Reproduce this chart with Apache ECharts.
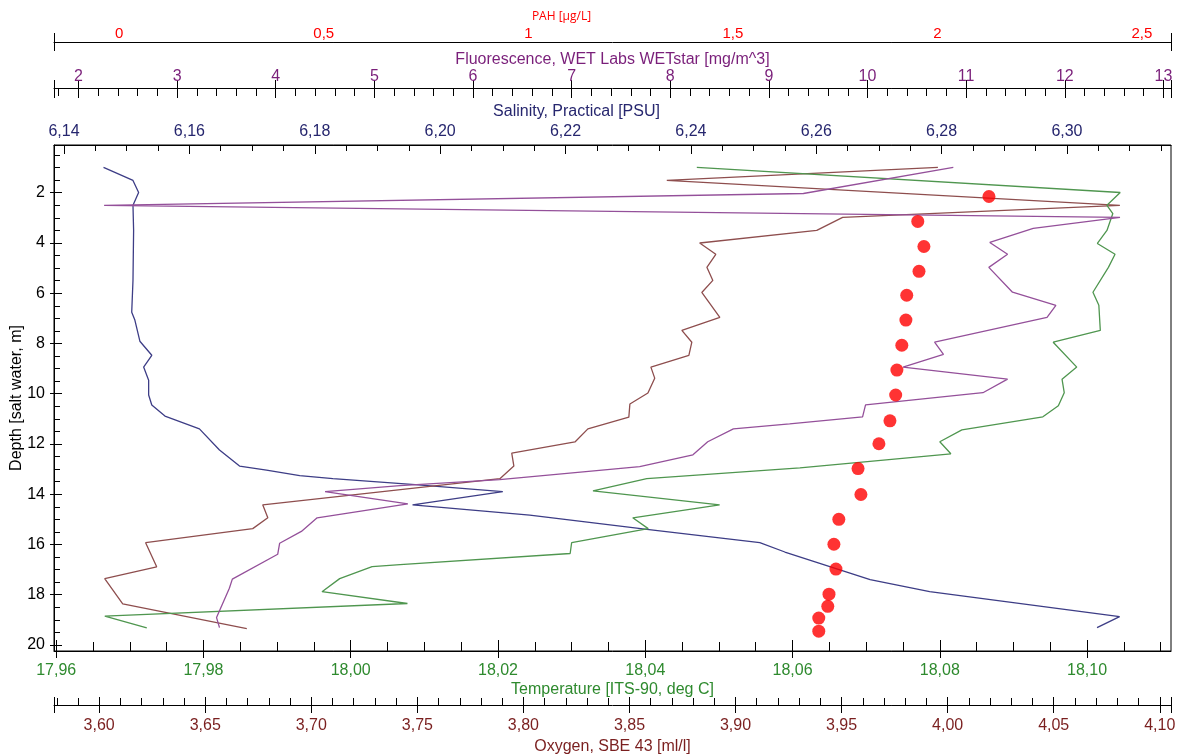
<!DOCTYPE html>
<html><head><meta charset="utf-8">
<script src="https://cdn.jsdelivr.net/npm/echarts@6/dist/echarts.min.js"></script>
<style>html,body{margin:0;padding:0;background:#fff}#c{width:1179px;height:756px}</style>
</head><body><div id="c"></div>
<script>
// ---------------- data ----------------
const salinityDepth = [0.99,1.51,1.99,2.50,3.50,5.49,6.76,7.07,7.91,8.47,8.94,9.46,10.05,10.45,10.89,11.40,12.24,12.88,13.04,13.26,13.38,13.62,13.90,14.42,14.83,15.40,15.93,16.30,17.40,17.88,18.87,19.31];
const salinityValues = [6.1463,6.1510,6.1519,6.1510,6.1511,6.1510,6.1508,6.1513,6.1521,6.1540,6.1527,6.1535,6.1535,6.1540,6.1561,6.1616,6.1648,6.1680,6.1723,6.1776,6.1829,6.1960,6.2100,6.1956,6.2143,6.2330,6.2510,6.2550,6.2686,6.2781,6.3084,6.3048];

const fluorDepth = [0.99,2.03,2.50,2.98,3.42,3.98,4.45,4.97,5.96,6.48,6.96,7.95,8.43,8.94,9.42,9.96,10.44,10.92,11.20,11.40,11.91,12.43,12.90,13.42,13.66,13.90,14.38,14.94,15.48,15.95,16.39,17.38,17.74,18.91,19.31];
const fluorValues = [10.87,9.35,2.26,12.56,11.68,11.24,11.42,11.23,11.47,11.91,11.82,10.68,10.77,10.36,11.42,11.17,9.98,9.95,9.21,8.64,8.38,8.23,7.69,6.27,5.26,4.50,5.34,4.42,4.26,4.04,4.02,3.56,3.53,3.40,3.43];

const tempDepth = [0.99,1.99,2.50,2.83,3.50,4.02,4.45,4.97,5.96,6.48,7.48,7.95,8.94,9.42,9.96,10.48,10.92,11.44,11.91,12.39,12.95,13.38,13.87,14.42,14.94,15.37,15.93,16.36,16.80,16.88,17.36,17.88,18.35,18.85,19.32];
const tempValues = [18.0470,18.1045,18.1027,18.1035,18.1027,18.1014,18.1038,18.1029,18.1008,18.1016,18.1018,18.0954,18.0986,18.0966,18.0969,18.0961,18.0940,18.0830,18.0800,18.0815,18.0610,18.0402,18.0329,18.0501,18.0383,18.0404,18.0300,18.0298,18.0067,18.0029,17.9985,17.9961,18.0077,17.9666,17.9723];

const oxyDepth = [0.99,1.51,2.50,2.98,3.50,4.00,4.45,4.97,5.49,5.97,6.96,7.48,7.95,8.47,8.94,9.38,9.97,10.41,10.93,11.40,11.92,12.36,12.88,13.38,14.42,14.94,15.37,15.93,16.89,17.36,18.36,19.35];
const oxyValues = [3.9954,3.8676,4.0812,3.9505,3.9383,3.8831,3.8907,3.8865,3.8893,3.8841,3.8926,3.8747,3.8794,3.8780,3.8601,3.8619,3.8587,3.8502,3.8497,3.8304,3.8243,3.7945,3.7955,3.7889,3.6771,3.6795,3.6724,3.6219,3.6271,3.6026,3.6111,3.6696];

const pahDepth = [2.15,3.14,4.14,5.13,6.08,7.07,8.07,9.06,10.05,11.08,11.99,12.98,14.01,15.00,15.99,16.98,17.98,18.46,18.93,19.45];
const pahValues = [2.126,1.952,1.967,1.955,1.925,1.923,1.913,1.901,1.898,1.884,1.857,1.806,1.813,1.759,1.747,1.752,1.735,1.732,1.710,1.710];

// tick labels
const depthTicks = [2,4,6,8,10,12,14,16,18,20];
const salinityTicks = [6.14,6.16,6.18,6.20,6.22,6.24,6.26,6.28,6.30];
const fluorTicks = [2,3,4,5,6,7,8,9,10,11,12,13];
const pahTicks = [0,0.5,1,1.5,2,2.5];
const tempTicks = [17.96,17.98,18.00,18.02,18.04,18.06,18.08,18.10];
const oxyTicks = [3.60,3.65,3.70,3.75,3.80,3.85,3.90,3.95,4.00,4.05,4.10];

// ---------------- chart ----------------
const FONT = '"Liberation Sans", Arial, sans-serif';
function steps(a, b, s){ const o=[]; const n=Math.round((b-a)/s); for(let i=0;i<=n;i++) o.push(+(a+i*s).toFixed(6)); return o; }
const fmt2 = v => v.toFixed(2).replace('.', ',');
const fmtP = v => String(v).replace('.', ',');
const zip = (xs, ys) => xs.map((x,i) => [x, ys[i]]);

const xAxes = [];
function addScale(c){
  const base = {type:'value', gridIndex:0, position:c.position, offset:c.offset, min:c.min, max:c.max, splitLine:{show:false}, splitArea:{show:false}};
  const idx = xAxes.length;
  xAxes.push(Object.assign({}, base, {
    axisLine:{show:true, onZero:false, lineStyle:{color:'#000', width:1}},
    axisTick:{show:c.majIn>0, inside:true, length:c.majIn, customValues:c.tickVals || c.majors, lineStyle:{color:'#000'}},
    axisLabel:{show:true, customValues:c.majors, formatter:c.fmt, color:c.color, fontSize:c.fontSize, fontFamily:c.fontFamily||FONT, margin:c.margin},
    name:c.name, nameLocation:'middle', nameGap:c.nameGap, nameMoveOverlap:false,
    nameTextStyle:{color:c.color, fontSize:c.nameSize, fontFamily:c.nameFamily||FONT, padding:c.namePad||0}
  }));
  if (c.minors) xAxes.push(Object.assign({}, base, {
    axisLine:{show:false, onZero:false}, axisLabel:{show:false},
    axisTick:{show:true, inside:true, length:c.minIn, customValues:c.minors, lineStyle:{color:'#000'}}
  }));
  if (c.outVals) xAxes.push(Object.assign({}, base, {
    axisLine:{show:false, onZero:false}, axisLabel:{show:false},
    axisTick:{show:true, inside:false, length:c.majOut, customValues:c.outVals, lineStyle:{color:'#000'}}
  }));
  return idx;
}

const salMin = 6.1384, salMax = 6.3166;
const fluMin = 1.752, fluMax = 13.077;
const pahMin = -0.1594, pahMax = 2.571;
const tmpMin = 17.9597, tmpMax = 18.1114;
const oxyMin = 3.5787, oxyMax = 4.1053;

const iSal = addScale({position:'top', offset:0, min:salMin, max:salMax, majors:salinityTicks, fmt:fmt2,
  color:'#26266e', fontSize:16, margin:5, majIn:9, minIn:6, minors:steps(6.14, 6.315, 0.005),
  name:'Salinity, Practical [PSU]', nameGap:25, nameSize:16, namePad:[0,72,0,0]});
const iFlu = addScale({position:'top', offset:57, min:fluMin, max:fluMax, majors:fluorTicks, fmt:v=>String(v),
  color:'#7a1f7a', fontSize:16, margin:3, majIn:10, minIn:8, minors:steps(1.8, 13.0, 0.2),
  tickVals:fluorTicks.concat([fluMin, fluMax]), majOut:8, outVals:fluorTicks.concat([fluMin, fluMax]),
  name:'Fluorescence, WET Labs WETstar [mg/m^3]', nameGap:20, nameSize:16});
const iPah = addScale({position:'top', offset:103, min:pahMin, max:pahMax, majors:pahTicks, fmt:fmtP,
  color:'#ff0000', fontSize:15, margin:1, majIn:9, tickVals:[pahMin, pahMax], majOut:9, outVals:[pahMin, pahMax],
  name:'PAH [µg/L]', nameGap:19, nameSize:12, nameFamily:'"Open Sans", "Noto Sans", sans-serif', namePad:[0,102,0,0]});
const iTmp = addScale({position:'bottom', offset:0, min:tmpMin, max:tmpMax, majors:tempTicks, fmt:fmt2,
  color:'#2e8a2e', fontSize:16, margin:12, majIn:11, minIn:9, minors:steps(17.96, 18.11, 0.005), majOut:7, outVals:tempTicks,
  name:'Temperature [ITS-90, deg C]', nameGap:31, nameSize:16});
const iOxy = addScale({position:'bottom', offset:54, min:oxyMin, max:oxyMax, majors:oxyTicks, fmt:fmt2,
  color:'#7a1f1f', fontSize:16, margin:13, majIn:8, minIn:7, minors:steps(3.58, 4.10, 0.01),
  tickVals:oxyTicks.concat([oxyMin, oxyMax]), majOut:8, outVals:oxyTicks.concat([oxyMin, oxyMax]),
  name:'Oxygen, SBE 43 [ml/l]', nameGap:34, nameSize:16});

const yBase = {type:'value', gridIndex:0, position:'left', inverse:true, min:0.1, max:20.24, splitLine:{show:false}};
const yAxes = [
  Object.assign({}, yBase, {
    axisLine:{show:true, onZero:false, lineStyle:{color:'#000'}},
    axisTick:{show:true, inside:true, length:8, customValues:depthTicks, lineStyle:{color:'#000'}},
    axisLabel:{show:true, customValues:depthTicks, color:'#000', fontSize:16, fontFamily:FONT, margin:9},
    name:'Depth [salt water, m]', nameLocation:'middle', nameGap:29, nameMoveOverlap:false,
    nameTextStyle:{color:'#000', fontSize:16, fontFamily:FONT}
  }),
  Object.assign({}, yBase, {
    axisLine:{show:false, onZero:false}, axisLabel:{show:false},
    axisTick:{show:true, inside:true, length:6, customValues:steps(0.5, 20, 0.5), lineStyle:{color:'#000'}}
  }),
  Object.assign({}, yBase, {
    axisLine:{show:false, onZero:false}, axisLabel:{show:false},
    axisTick:{show:true, inside:false, length:4, customValues:depthTicks, lineStyle:{color:'#000'}}
  })
];

const lineS = (name, xi, vals, deps, color) => ({
  name, type:'line', xAxisIndex:xi, yAxisIndex:0, data:zip(vals, deps),
  showSymbol:false, symbol:'none', smooth:false, lineStyle:{color, width:1.3}, emphasis:{disabled:true}
});

const option = {
  animation:false,
  grid:{left:54, right:8, top:145, bottom:105, show:true, borderColor:'#000', borderWidth:1, outerBoundsMode:'none', containLabel:false},
  xAxis:xAxes,
  yAxis:yAxes,
  series:[
    lineS('Salinity', iSal, salinityValues, salinityDepth, '#3d3d86'),
    lineS('Oxygen', iOxy, oxyValues, oxyDepth, '#8e4e4e'),
    lineS('Temperature', iTmp, tempValues, tempDepth, '#4f964f'),
    lineS('Fluorescence', iFlu, fluorValues, fluorDepth, '#94509a'),
    {name:'PAH', type:'scatter', xAxisIndex:iPah, yAxisIndex:0, data:zip(pahValues, pahDepth),
     symbolSize:13, itemStyle:{color:'#ff0000'}, emphasis:{disabled:true}, z:5}
  ]
};
const chart = echarts.init(document.getElementById('c'), null, {renderer:'canvas'});
chart.setOption(option);
</script></body></html>
